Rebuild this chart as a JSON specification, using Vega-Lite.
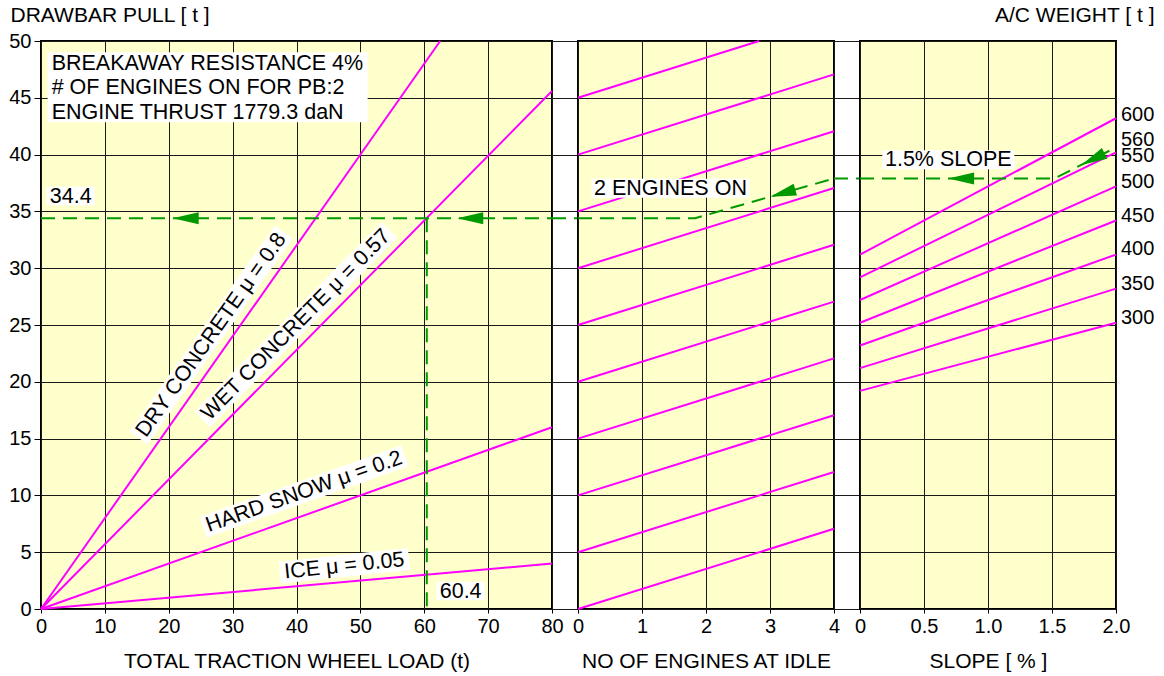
{
  "$schema": "https://vega.github.io/schema/vega-lite/v6.json",
  "background": "white",
  "padding": {"left": 7, "top": 3, "right": 0, "bottom": 0},
  "bounds": "flush",
  "spacing": 0,
  "config": {
    "font": "Liberation Sans",
    "view": {"fill": "#FFFFCC", "stroke": "#000000", "strokeWidth": 2},
    "axis": {
      "domain": false, "gridColor": "#1a1a1a", "gridWidth": 1, "gridOpacity": 1,
      "tickColor": "#000000", "tickWidth": 1,
      "labelFont": "Liberation Sans", "labelFontSize": 20, "labelColor": "#000000",
      "titleFont": "Liberation Sans", "titleFontSize": 21, "titleFontWeight": "normal", "titleColor": "#000000",
      "labelFlush": false, "labelOverlap": false
    },
    "text": {"font": "Liberation Sans", "fontSize": 21.5, "color": "#000000"}
  },
  "hconcat": [
    {
      "width": 511, "height": 568,
      "encoding": {
        "x": {"field": "load", "type": "quantitative", "scale": {"domain": [0, 80], "nice": false},
          "axis": {"values": [0, 10, 20, 30, 40, 50, 60, 70, 80], "grid": true, "title": "TOTAL TRACTION WHEEL LOAD (t)", "tickSize": 4, "labelPadding": 3, "titleBaseline": "alphabetic", "titleY": 58}},
        "y": {"field": "pull", "type": "quantitative", "scale": {"domain": [0, 50], "nice": false},
          "axis": {"values": [0, 5, 10, 15, 20, 25, 30, 35, 40, 45, 50], "grid": true, "tickSize": 7, "labelPadding": 3, "title": "DRAWBAR PULL [ t ]", "titleAngle": 0, "titleAlign": "left", "titleBaseline": "alphabetic", "titleX": -31, "titleY": -20}}
      },
      "layer": [
        {
          "data": {"values": [
            {"surface": "DRY CONCRETE", "load": 0, "pull": 0}, {"surface": "DRY CONCRETE", "load": 62.5, "pull": 50},
            {"surface": "WET CONCRETE", "load": 0, "pull": 0}, {"surface": "WET CONCRETE", "load": 80, "pull": 45.6},
            {"surface": "HARD SNOW", "load": 0, "pull": 0}, {"surface": "HARD SNOW", "load": 80, "pull": 16},
            {"surface": "ICE", "load": 0, "pull": 0}, {"surface": "ICE", "load": 80, "pull": 4}
          ]},
          "mark": {"type": "line", "color": "#FF00FF", "strokeWidth": 2},
          "encoding": {"detail": {"field": "surface"}}
        },
        {
          "data": {"values": [
            {"seg": "h", "load": 0, "pull": 34.4}, {"seg": "h", "load": 80, "pull": 34.4},
            {"seg": "v", "load": 60.4, "pull": 34.4}, {"seg": "v", "load": 60.4, "pull": 0}
          ]},
          "mark": {"type": "line", "color": "#009A00", "strokeWidth": 2, "strokeDash": [14, 8]},
          "encoding": {"detail": {"field": "seg"}}
        },
        {
          "data": {"values": [{"load": 22.65, "pull": 34.4}, {"load": 67.2, "pull": 34.4}]},
          "mark": {"type": "point", "shape": "M-13,0L13,-6L13,6Z", "size": 4, "filled": true, "color": "#009A00", "opacity": 1, "strokeWidth": 0}
        },
        {
          "data": {"values": [{"load": 1.67, "pull": 45.85}]},
          "mark": {"type": "point", "shape": "M-4,-36L316,-36L316,34L-4,34Z", "size": 4, "filled": true, "color": "white", "opacity": 1, "strokeWidth": 0}
        },
        {
          "data": {"values": [
            {"load": 1.67, "pull": 48.0, "label": "BREAKAWAY RESISTANCE 4%"},
            {"load": 1.67, "pull": 45.85, "label": "# OF ENGINES ON FOR PB:2"},
            {"load": 1.67, "pull": 43.7, "label": "ENGINE THRUST 1779.3 daN"}
          ]},
          "mark": {"type": "text", "align": "left", "baseline": "middle", "fontSize": 21.5, "color": "#000000"},
          "encoding": {"text": {"field": "label"}}
        },
        {
          "data": {"values": [{"load": 4.66, "pull": 36.3, "label": "34.4"}, {"load": 65.7, "pull": 1.51, "label": "60.4"}]},
          "layer": [
            {"mark": {"type": "point", "shape": "M-24,-10L24,-10L24,8.5L-24,8.5Z", "size": 4, "filled": true, "color": "white", "opacity": 1, "strokeWidth": 0}},
            {"mark": {"type": "text", "align": "center", "baseline": "middle", "fontSize": 21.5, "color": "#000000"}, "encoding": {"text": {"field": "label"}}}
          ]
        },
        {
          "data": {"values": [{"load": 26.7, "pull": 24.1, "label": "DRY CONCRETE μ = 0.8"}]},
          "layer": [
            {"mark": {"type": "point", "shape": "M-126,-11.5L126,-11.5L126,10.5L-126,10.5Z", "size": 4, "filled": true, "color": "white", "opacity": 1, "strokeWidth": 0, "angle": 305.2}},
            {"mark": {"type": "text", "align": "center", "baseline": "middle", "fontSize": 21.5, "color": "#000000", "angle": 305.2}, "encoding": {"text": {"field": "label"}}}
          ]
        },
        {
          "data": {"values": [{"load": 39.95, "pull": 25.0, "label": "WET CONCRETE μ = 0.57"}]},
          "layer": [
            {"mark": {"type": "point", "shape": "M-133,-11.5L133,-11.5L133,10.5L-133,10.5Z", "size": 4, "filled": true, "color": "white", "opacity": 1, "strokeWidth": 0, "angle": 314.7}},
            {"mark": {"type": "text", "align": "center", "baseline": "middle", "fontSize": 21.5, "color": "#000000", "angle": 314.7}, "encoding": {"text": {"field": "label"}}}
          ]
        },
        {
          "data": {"values": [{"load": 41.2, "pull": 10.3, "label": "HARD SNOW μ = 0.2"}]},
          "layer": [
            {"mark": {"type": "point", "shape": "M-107,-11.5L107,-11.5L107,10.5L-107,10.5Z", "size": 4, "filled": true, "color": "white", "opacity": 1, "strokeWidth": 0, "angle": 340.5}},
            {"mark": {"type": "text", "align": "center", "baseline": "middle", "fontSize": 21.5, "color": "#000000", "angle": 340.5}, "encoding": {"text": {"field": "label"}}}
          ]
        },
        {
          "data": {"values": [{"load": 47.5, "pull": 3.76, "label": "ICE μ = 0.05"}]},
          "layer": [
            {"mark": {"type": "point", "shape": "M-65,-11.5L65,-11.5L65,10.5L-65,10.5Z", "size": 4, "filled": true, "color": "white", "opacity": 1, "strokeWidth": 0, "angle": 354}},
            {"mark": {"type": "text", "align": "center", "baseline": "middle", "fontSize": 21.5, "color": "#000000", "angle": 354}, "encoding": {"text": {"field": "label"}}}
          ]
        }
      ]
    },
    {
      "width": 26, "height": 568,
      "view": {"fill": null, "stroke": null},
      "data": {"values": [{"gap": 0, "pull": 34.4}, {"gap": 1, "pull": 34.4}]},
      "mark": {"type": "line", "color": "#009A00", "strokeWidth": 2, "strokeDash": [14, 8]},
      "encoding": {
        "x": {"field": "gap", "type": "quantitative", "scale": {"domain": [0, 1], "nice": false}, "axis": null},
        "y": {"field": "pull", "type": "quantitative", "scale": {"domain": [0, 50], "nice": false},
          "axis": {"values": [0, 5, 10, 15, 20, 25, 30, 35, 40, 45, 50], "grid": true, "labels": false, "ticks": false, "title": null}}
      }
    },
    {
      "width": 256, "height": 568,
      "encoding": {
        "x": {"field": "engines", "type": "quantitative", "scale": {"domain": [0, 4], "nice": false},
          "axis": {"values": [0, 1, 2, 3, 4], "grid": true, "title": "NO OF ENGINES AT IDLE", "tickSize": 4, "labelPadding": 3, "titleBaseline": "alphabetic", "titleY": 58}},
        "y": {"field": "pull", "type": "quantitative", "scale": {"domain": [0, 50], "nice": false},
          "axis": {"values": [0, 5, 10, 15, 20, 25, 30, 35, 40, 45, 50], "grid": true, "labels": false, "ticks": false, "title": null}}
      },
      "layer": [
        {
          "data": {"values": [
            {"start": 0, "engines": 0, "pull": 0}, {"start": 0, "engines": 4, "pull": 7.06},
            {"start": 5, "engines": 0, "pull": 5}, {"start": 5, "engines": 4, "pull": 12.06},
            {"start": 10, "engines": 0, "pull": 10}, {"start": 10, "engines": 4, "pull": 17.06},
            {"start": 15, "engines": 0, "pull": 15}, {"start": 15, "engines": 4, "pull": 22.06},
            {"start": 20, "engines": 0, "pull": 20}, {"start": 20, "engines": 4, "pull": 27.06},
            {"start": 25, "engines": 0, "pull": 25}, {"start": 25, "engines": 4, "pull": 32.06},
            {"start": 30, "engines": 0, "pull": 30}, {"start": 30, "engines": 4, "pull": 37.06},
            {"start": 35, "engines": 0, "pull": 35}, {"start": 35, "engines": 4, "pull": 42.06},
            {"start": 40, "engines": 0, "pull": 40}, {"start": 40, "engines": 4, "pull": 47.06},
            {"start": 45, "engines": 0, "pull": 45}, {"start": 45, "engines": 2.83, "pull": 50}
          ]},
          "mark": {"type": "line", "color": "#FF00FF", "strokeWidth": 2},
          "encoding": {"detail": {"field": "start"}}
        },
        {
          "data": {"values": [{"engines": 0, "pull": 34.4}, {"engines": 1.83, "pull": 34.4}, {"engines": 4, "pull": 37.9}]},
          "mark": {"type": "line", "color": "#009A00", "strokeWidth": 2, "strokeDash": [14, 8]}
        },
        {
          "data": {"values": [{"engines": 3.2, "pull": 36.6}]},
          "mark": {"type": "point", "shape": "M-13,0L13,-6L13,6Z", "size": 4, "filled": true, "color": "#009A00", "opacity": 1, "strokeWidth": 0, "angle": 344}
        },
        {
          "data": {"values": [{"engines": 1.445, "pull": 37.0, "label": "2 ENGINES ON"}]},
          "layer": [
            {"mark": {"type": "point", "shape": "M-79,-10L79,-10L79,9L-79,9Z", "size": 4, "filled": true, "color": "white", "opacity": 1, "strokeWidth": 0}},
            {"mark": {"type": "text", "align": "center", "baseline": "middle", "fontSize": 21.5, "color": "#000000"}, "encoding": {"text": {"field": "label"}}}
          ]
        }
      ]
    },
    {
      "width": 26, "height": 568,
      "view": {"fill": null, "stroke": null},
      "data": {"values": [{"gap": 0, "pull": 37.9}, {"gap": 1, "pull": 37.9}]},
      "mark": {"type": "line", "color": "#009A00", "strokeWidth": 2, "strokeDash": [14, 8]},
      "encoding": {
        "x": {"field": "gap", "type": "quantitative", "scale": {"domain": [0, 1], "nice": false}, "axis": null},
        "y": {"field": "pull", "type": "quantitative", "scale": {"domain": [0, 50], "nice": false},
          "axis": {"values": [0, 5, 10, 15, 20, 25, 30, 35, 40, 45, 50], "grid": true, "labels": false, "ticks": false, "title": null}}
      }
    },
    {
      "width": 256, "height": 568,
      "encoding": {
        "x": {"field": "slope", "type": "quantitative", "scale": {"domain": [0, 2], "nice": false},
          "axis": {"values": [0, 0.5, 1, 1.5, 2], "labelExpr": "datum.value == 0 ? '0' : format(datum.value, '.1f')", "grid": true, "title": "SLOPE [ % ]", "tickSize": 4, "labelPadding": 3, "titleBaseline": "alphabetic", "titleY": 58}},
        "y": {"field": "pull", "type": "quantitative", "scale": {"domain": [0, 50], "nice": false},
          "axis": {"orient": "right", "values": [0, 5, 10, 15, 20, 25, 30, 35, 40, 45, 50], "grid": true, "labels": false, "ticks": false, "title": "A/C WEIGHT [ t ]", "titleAngle": 0, "titleAlign": "right", "titleBaseline": "alphabetic", "titleX": 38, "titleY": -20}}
      },
      "layer": [
        {
          "data": {"values": [
            {"weight": 300, "slope": 0, "pull": 19.2}, {"weight": 300, "slope": 2, "pull": 25.2},
            {"weight": 350, "slope": 0, "pull": 21.2}, {"weight": 350, "slope": 2, "pull": 28.2},
            {"weight": 400, "slope": 0, "pull": 23.2}, {"weight": 400, "slope": 2, "pull": 31.2},
            {"weight": 450, "slope": 0, "pull": 25.2}, {"weight": 450, "slope": 2, "pull": 34.2},
            {"weight": 500, "slope": 0, "pull": 27.2}, {"weight": 500, "slope": 2, "pull": 37.2},
            {"weight": 550, "slope": 0, "pull": 29.2}, {"weight": 550, "slope": 2, "pull": 40.2},
            {"weight": 600, "slope": 0, "pull": 31.2}, {"weight": 600, "slope": 2, "pull": 43.2}
          ]},
          "mark": {"type": "line", "color": "#FF00FF", "strokeWidth": 2},
          "encoding": {"detail": {"field": "weight"}}
        },
        {
          "data": {"values": [{"slope": 0, "pull": 37.9}, {"slope": 1.52, "pull": 37.9}, {"slope": 1.966, "pull": 40.44}]},
          "mark": {"type": "line", "color": "#009A00", "strokeWidth": 2, "strokeDash": [14, 8]}
        },
        {
          "data": {"values": [{"slope": 0.79, "pull": 37.9}]},
          "mark": {"type": "point", "shape": "M-13,0L13,-6L13,6Z", "size": 4, "filled": true, "color": "#009A00", "opacity": 1, "strokeWidth": 0}
        },
        {
          "data": {"values": [{"slope": 1.82, "pull": 39.6}]},
          "mark": {"type": "point", "shape": "M-13,0L13,-6L13,6Z", "size": 4, "filled": true, "color": "#009A00", "opacity": 1, "strokeWidth": 0, "angle": 333.2}
        },
        {
          "data": {"values": [{"slope": 0.69, "pull": 39.5, "label": "1.5% SLOPE"}]},
          "layer": [
            {"mark": {"type": "point", "shape": "M-66,-10L66,-10L66,9L-66,9Z", "size": 4, "filled": true, "color": "white", "opacity": 1, "strokeWidth": 0}},
            {"mark": {"type": "text", "align": "center", "baseline": "middle", "fontSize": 21.5, "color": "#000000"}, "encoding": {"text": {"field": "label"}}}
          ]
        },
        {
          "data": {"values": [
            {"weight": "600", "slope": 2, "pull": 43.5},
            {"weight": "560", "slope": 2, "pull": 41.3},
            {"weight": "550", "slope": 2, "pull": 39.9},
            {"weight": "500", "slope": 2, "pull": 37.6},
            {"weight": "450", "slope": 2, "pull": 34.6},
            {"weight": "400", "slope": 2, "pull": 31.65},
            {"weight": "350", "slope": 2, "pull": 28.6},
            {"weight": "300", "slope": 2, "pull": 25.6}
          ]},
          "mark": {"type": "text", "align": "left", "baseline": "middle", "dx": 5, "fontSize": 20, "color": "#000000"},
          "encoding": {"text": {"field": "weight"}}
        }
      ]
    }
  ]
}
